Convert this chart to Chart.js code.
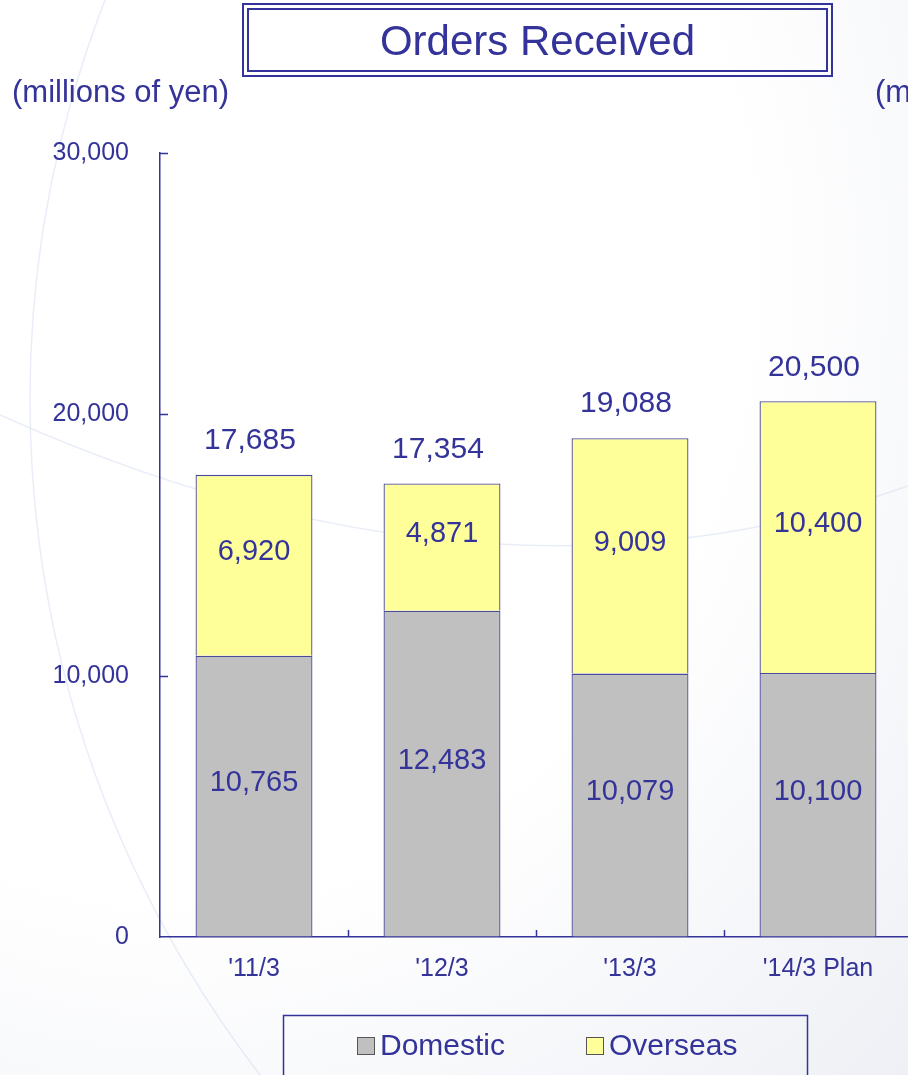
<!DOCTYPE html>
<html>
<head>
<meta charset="utf-8">
<script src="https://cdn.jsdelivr.net/npm/chart.js@4.4.1/dist/chart.umd.min.js"></script>
<style>
  html, body { margin: 0; padding: 0; width: 908px; height: 1075px; overflow: hidden; }
  body {
    background: radial-gradient(ellipse at 20% 25%, #ffffff 55%, #eef0f5 100%);
    font-family: "Liberation Sans", Arial, sans-serif;
    color: #333399;
    position: relative;
  }
  #myChart { position: absolute; left: 0; top: 0; }
  .title {
    position: absolute; left: 242px; top: 3px; width: 591px; height: 74px;
    box-sizing: border-box; border: 7px double #333399;
    font-size: 42px; line-height: 62px; text-align: center;
  }
  .unit { position: absolute; top: 73px; font-size: 31px; line-height: 38px; white-space: nowrap; }
</style>
</head>
<body>
<canvas id="myChart" width="930" height="1075"></canvas>
<div class="title">Orders Received</div>
<div class="unit" style="left:12px">(millions of yen)</div>
<div class="unit" style="left:875px">(millions of yen)</div>
<script>
const ctx = document.getElementById('myChart').getContext('2d');

// chart data
const categories = ["'11/3", "'12/3", "'13/3", "'14/3 Plan"];
const domestic = [10765, 12483, 10079, 10100];
const overseas = [6920, 4871, 9009, 10400];
const totals = [17685, 17354, 19088, 20500];
const yTicks = [0, 10000, 20000, 30000];

const navy = '#333399';
const barLine = '#4b4b9b';
const font = '"Liberation Sans", Arial, sans-serif';
const fmt = (v) => v.toLocaleString('en-US');

// faint arcs in the background
const backgroundPlugin = {
  id: 'bgArcs',
  beforeDraw: (chart) => {
    const c = chart.ctx;
    c.save();
    c.strokeStyle = 'rgba(215,222,240,0.55)';
    c.lineWidth = 1.5;
    c.beginPath();
    c.arc(1134, 400, 1104, Math.PI * 0.6, Math.PI * 1.4);
    c.stroke();
    c.beginPath();
    c.moveTo(0, 415);
    c.quadraticCurveTo(500, 640, 930, 478);
    c.stroke();
    c.restore();
  }
};

// inward tick marks on both axes
const tickPlugin = {
  id: 'innerTicks',
  afterDatasetsDraw: (chart) => {
    const c = chart.ctx;
    const { left, bottom } = chart.chartArea;
    const x = chart.scales.x, y = chart.scales.y;
    c.save();
    c.strokeStyle = navy;
    c.lineWidth = 1.5;
    yTicks.forEach(v => {
      if (v === 0) return;
      const py = Math.round(y.getPixelForValue(v)) + 0.5;
      c.beginPath(); c.moveTo(left, py); c.lineTo(left + 8, py); c.stroke();
    });
    for (let i = 0; i < categories.length; i++) {
      const px = Math.round((x.getPixelForValue(i) + x.getPixelForValue(i + 1)) / 2) + 0.5;
      c.beginPath(); c.moveTo(px, bottom); c.lineTo(px, bottom - 7); c.stroke();
    }
    c.restore();
  }
};

// value labels inside bars and totals on top
const labelPlugin = {
  id: 'valueLabels',
  afterDatasetsDraw: (chart) => {
    const c = chart.ctx;
    c.save();
    c.fillStyle = navy;
    c.textAlign = 'center';
    c.textBaseline = 'middle';
    c.font = '29px ' + font;
    chart.data.datasets.forEach((ds, di) => {
      chart.getDatasetMeta(di).data.forEach((bar, i) => {
        const mid = (bar.y + bar.base) / 2 - 13;
        c.fillText(fmt(ds.data[i]), bar.x, mid);
      });
    });
    c.font = '30px ' + font;
    const top = chart.getDatasetMeta(1).data;
    top.forEach((bar, i) => {
      c.fillText(fmt(totals[i]), bar.x - 4, bar.y - 34);
    });
    c.restore();
  }
};

// boxed legend under the axis
const legendPlugin = {
  id: 'boxLegend',
  afterDraw: (chart) => {
    const c = chart.ctx;
    c.save();
    c.strokeStyle = navy;
    c.lineWidth = 1.5;
    c.strokeRect(283.5, 1015.5, 524, 100);
    const starts = [357, 586];
    c.font = '30px ' + font;
    c.textBaseline = 'middle';
    chart.data.datasets.forEach((ds, i) => {
      const sx = starts[i];
      c.fillStyle = ds.backgroundColor;
      c.fillRect(sx, 1037, 18, 18);
      c.strokeStyle = '#555555';
      c.lineWidth = 1;
      c.strokeRect(sx + 0.5, 1037.5, 17, 17);
      c.fillStyle = navy;
      c.fillText(ds.label, sx + 23, 1047);
    });
    c.restore();
  }
};

const chart = new Chart(ctx, {
  type: 'bar',
  data: {
    labels: categories,
    datasets: [
      { label: 'Domestic', data: domestic, backgroundColor: '#c0c0c0', borderColor: barLine, borderWidth: 1.3 },
      { label: 'Overseas', data: overseas, backgroundColor: '#ffff99', borderColor: barLine, borderWidth: 1.3 }
    ]
  },
  options: {
    responsive: false,
    devicePixelRatio: 1,
    animation: false,
    barPercentage: 0.622,
    categoryPercentage: 1,
    layout: { padding: { top: 153, right: 18, bottom: 0, left: 0 } },
    scales: {
      x: {
        stacked: true,
        grid: { display: true, drawOnChartArea: false, drawTicks: false, offset: true },
        border: { color: navy, width: 1.5 },
        ticks: { color: navy, font: { family: font, size: 25 }, padding: 17, maxRotation: 0 },
        afterFit: (scale) => { scale.height = 138; }
      },
      y: {
        stacked: true,
        min: 0,
        max: 30000,
        grid: { display: true, drawOnChartArea: false, drawTicks: false },
        border: { color: navy, width: 1.5 },
        ticks: {
          stepSize: 10000,
          color: navy,
          padding: 31,
          font: { family: font, size: 25 },
          callback: (v) => fmt(v)
        },
        afterFit: (scale) => { scale.width = 160; }
      }
    },
    plugins: {
      legend: { display: false },
      tooltip: { enabled: false }
    }
  },
  plugins: [backgroundPlugin, tickPlugin, labelPlugin, legendPlugin]
});
</script>
</body>
</html>
